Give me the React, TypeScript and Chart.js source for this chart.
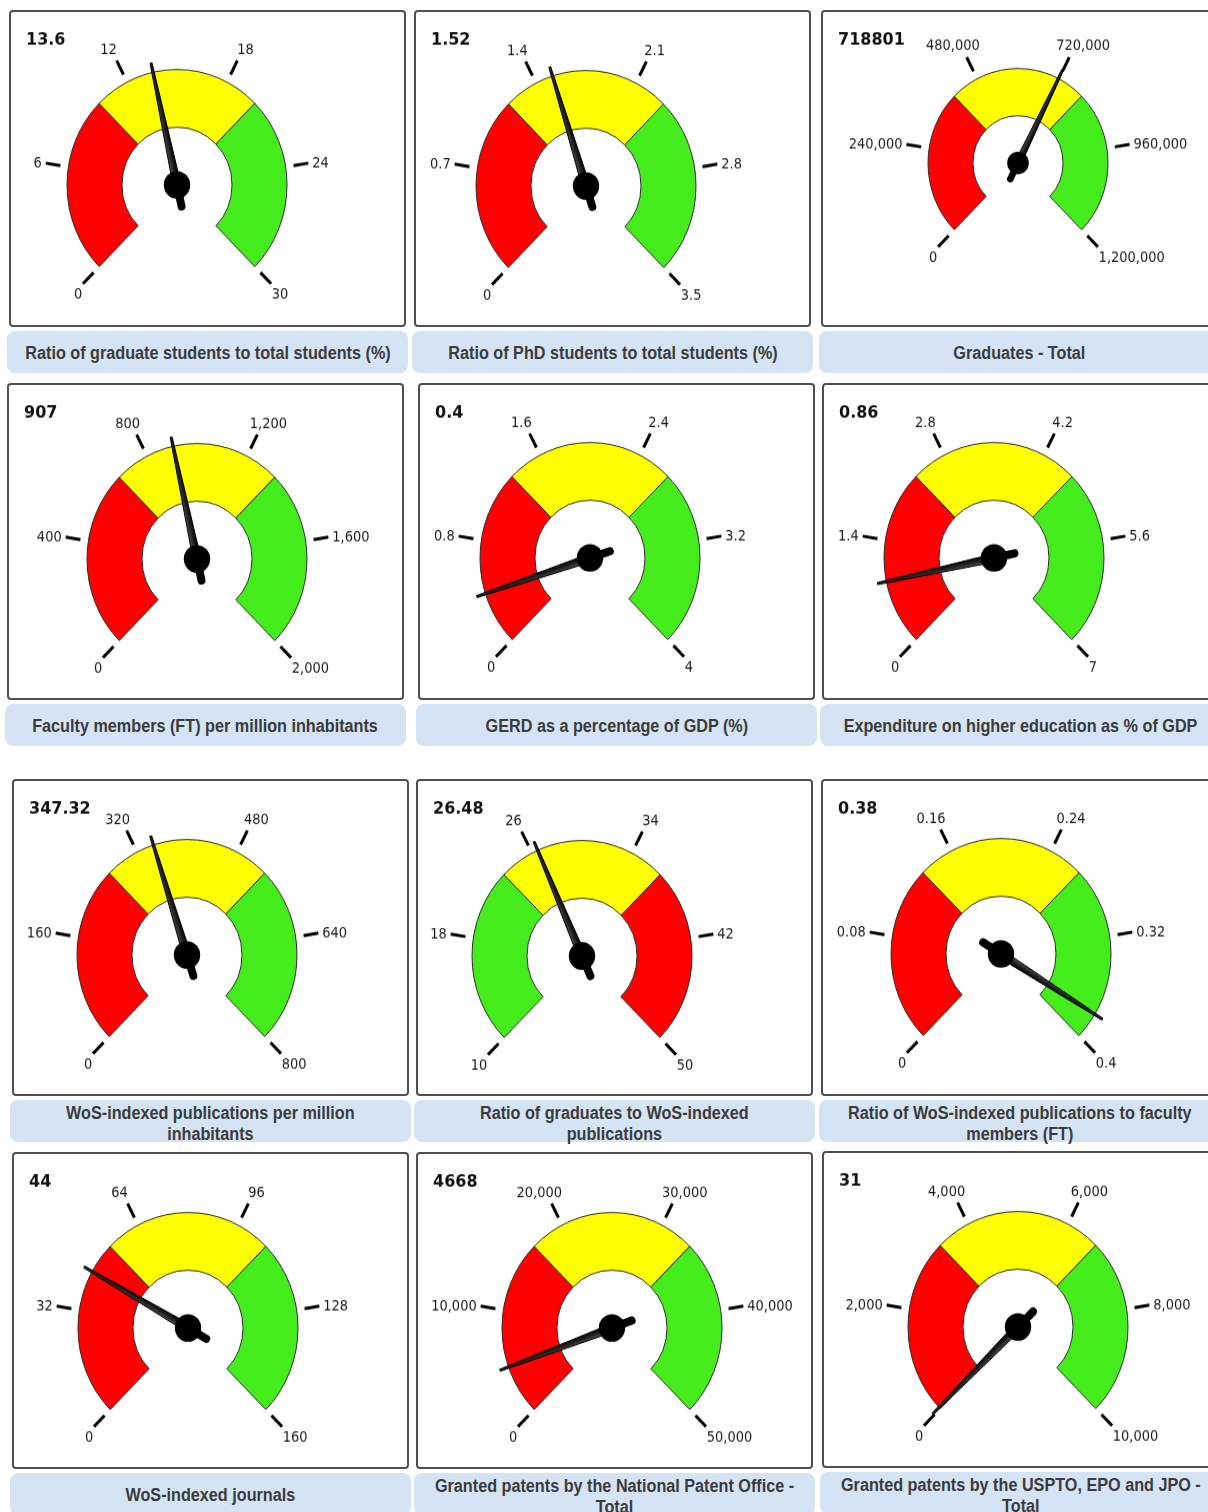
import React, { useEffect, useRef } from 'react'
import { Chart, registerables } from 'chart.js'

Chart.register(...registerables)

// ---- data ----
const titles = [
  'Ratio of graduate students to total students (%)',
  'Ratio of PhD students to total students (%)',
  'Graduates - Total',
  'Faculty members (FT) per million inhabitants',
  'GERD as a percentage of GDP (%)',
  'Expenditure on higher education as % of GDP',
  'WoS-indexed publications per million\ninhabitants',
  'Ratio of graduates to WoS-indexed\npublications',
  'Ratio of WoS-indexed publications to faculty\nmembers (FT)',
  'WoS-indexed journals',
  'Granted patents by the National Patent Office -\nTotal',
  'Granted patents by the USPTO, EPO and JPO -\nTotal'
]

const values = [13.6, 1.52, 718801, 907, 0.4, 0.86, 347.32, 26.48, 0.38, 44, 4668, 31]
const valueLabels = ['13.6', '1.52', '718801', '907', '0.4', '0.86', '347.32', '26.48', '0.38', '44', '4668', '31']

const tickLabels = [
  ['0', '6', '12', '18', '24', '30'],
  ['0', '0.7', '1.4', '2.1', '2.8', '3.5'],
  ['0', '240,000', '480,000', '720,000', '960,000', '1,200,000'],
  ['0', '400', '800', '1,200', '1,600', '2,000'],
  ['0', '0.8', '1.6', '2.4', '3.2', '4'],
  ['0', '1.4', '2.8', '4.2', '5.6', '7'],
  ['0', '160', '320', '480', '640', '800'],
  ['10', '18', '26', '34', '42', '50'],
  ['0', '0.08', '0.16', '0.24', '0.32', '0.4'],
  ['0', '32', '64', '96', '128', '160'],
  ['0', '10,000', '20,000', '30,000', '40,000', '50,000'],
  ['0', '2,000', '4,000', '6,000', '8,000', '10,000']
]

// band boundaries (low / mid / high)
const bandEdges = [
  [0, 10, 20, 30],
  [0, 1.17, 2.33, 3.5],
  [0, 400000, 800000, 1200000],
  [0, 667, 1333, 2000],
  [0, 1.33, 2.67, 4],
  [0, 2.33, 4.67, 7],
  [0, 267, 533, 800],
  [10, 23.3, 36.7, 50],
  [0, 0.133, 0.267, 0.4],
  [0, 53.3, 106.7, 160],
  [0, 16667, 33333, 50000],
  [0, 3333, 6667, 10000]
]

// true when the good (green) band is on the low side
const reversedBands = [false, false, false, false, false, false, false, true, false, false, false, false]

// ---- layout ----
const BOX_W = 397
const BOX_H = 317
const SY = 1.05 // the dials are drawn slightly taller than wide
const CANVAS_H = Math.round(BOX_H / SY)
const boxLeft = [9, 414, 821, 7, 418, 822, 12, 416, 821, 12, 416, 822]
const boxTop = [10, 10, 10, 383, 383, 383, 779, 779, 779, 1152, 1152, 1151]
const dialX = [168, 172, 197, 190, 172, 172, 175, 166, 180, 176, 196, 196]
const dialY = [175, 176, 153, 176, 175, 175, 176, 177, 175, 176, 176, 176]
const dialRadius = [110, 110, 90, 110, 110, 110, 110, 110, 110, 110, 110, 110]

const RED = '#ff0000'
const YELLOW = '#ffff00'
const GREEN = '#44ec1c'
const TICK_STRETCH = 1.12

const toNum = (s: string) => Number(s.replace(/,/g, ''))

function stretchedText(ctx: CanvasRenderingContext2D, text: string, x: number, y: number, align: CanvasTextAlign, baseline: CanvasTextBaseline) {
  ctx.save()
  ctx.translate(x, y)
  ctx.scale(1, TICK_STRETCH)
  ctx.textAlign = align
  ctx.textBaseline = baseline
  ctx.fillText(text, 0, 0)
  ctx.restore()
}

// ticks, labels, needle and readout drawn around the doughnut arc
const dialPlugin = {
  id: 'dial',
  afterDatasetsDraw(chart: any, _args: any, opts: any) {
    const arc = chart.getDatasetMeta(0).data[0]
    if (!arc) return
    const { x, y, outerRadius: R } = arc.getProps(['x', 'y', 'outerRadius'], true)
    const ctx: CanvasRenderingContext2D = chart.ctx
    const ticks: string[] = opts.ticks
    const min = toNum(ticks[0])
    const max = toNum(ticks[ticks.length - 1])
    const angleOf = (v: number) => ((-135 + ((v - min) / (max - min)) * 270) * Math.PI) / 180

    ctx.save()
    ctx.font = '13px "DejaVu Sans", Verdana, sans-serif'
    ctx.fillStyle = '#1a1a1a'
    ctx.strokeStyle = '#000'
    ctx.lineWidth = 3
    ticks.forEach((label) => {
      const a = angleOf(toNum(label))
      const dx = Math.sin(a)
      const dy = -Math.cos(a)
      ctx.beginPath()
      ctx.moveTo(x + dx * (R + 8), y + dy * (R + 8))
      ctx.lineTo(x + dx * (R + 23), y + dy * (R + 23))
      ctx.stroke()

      // label offsets are measured on screen, so undo the vertical stretch
      const w = ctx.measureText(label).width
      if (dy > 0.5) {
        stretchedText(ctx, label, x + dx * (R + 24), y + (dy * (R + 24) + 7) / SY, dx < 0 ? 'right' : 'left', 'top')
      } else if (Math.abs(dx) > 0.9) {
        stretchedText(ctx, label, x + dx * (R + 27), y + (dy * (R + 27)) / SY, dx < 0 ? 'right' : 'left', 'middle')
      } else {
        const lx = x + dx * (R + 41) + Math.sign(dx) * Math.max(0, (w - 20) / 6)
        stretchedText(ctx, label, lx, y + (dy * (R + 41)) / SY, 'center', 'middle')
      }
    })

    // needle
    const v = Math.min(max, Math.max(min, opts.value))
    const a = angleOf(v)
    const dx = Math.sin(a)
    const dy = -Math.cos(a)
    const px = -dy
    const py = dx
    const tip = R + 9
    const base = R * 0.036
    const grad = ctx.createLinearGradient(x + px * base, y + py * base, x - px * base, y - py * base)
    grad.addColorStop(0, '#000')
    grad.addColorStop(0.6, '#2a2a2a')
    grad.addColorStop(1, '#555')
    ctx.beginPath()
    ctx.moveTo(x + px * base, y + py * base)
    ctx.lineTo(x + dx * tip + px, y + dy * tip + py)
    ctx.lineTo(x + dx * tip - px, y + dy * tip - py)
    ctx.lineTo(x - px * base, y - py * base)
    ctx.closePath()
    ctx.fillStyle = grad
    ctx.fill()
    ctx.strokeStyle = '#000'
    ctx.lineWidth = 1
    ctx.stroke()

    ctx.lineCap = 'round'
    ctx.lineWidth = R * 0.072
    ctx.beginPath()
    ctx.moveTo(x, y)
    ctx.lineTo(x - dx * R * 0.19, y - dy * R * 0.19)
    ctx.stroke()

    ctx.fillStyle = '#000'
    ctx.beginPath()
    ctx.arc(x, y, R * 0.12, 0, Math.PI * 2)
    ctx.fill()

    // readout
    ctx.font = 'bold 16px "DejaVu Sans", Verdana, sans-serif'
    ctx.fillStyle = '#111'
    ctx.textAlign = 'left'
    ctx.textBaseline = 'alphabetic'
    ctx.fillText(opts.label, 17, 35 / SY)
    ctx.restore()
  }
}

function GaugePanel({ i }: { i: number }) {
  const canvasRef = useRef<HTMLCanvasElement>(null)

  useEffect(() => {
    if (!canvasRef.current) return
    const R = dialRadius[i]
    // a 270° doughnut is pushed down by (1 - cos45°)/2 of its radius
    const cx = dialX[i]
    const cy = dialY[i] / SY - ((1 - Math.SQRT1_2) / 2) * R
    const padding = { left: 0, right: 0, top: 0, bottom: 0 }
    if (2 * cx < BOX_W) padding.right = BOX_W - 2 * cx
    else padding.left = 2 * cx - BOX_W
    if (2 * cy < CANVAS_H) padding.bottom = CANVAS_H - 2 * cy
    else padding.top = 2 * cy - CANVAS_H

    const edges = bandEdges[i]
    const widths = edges.slice(1).map((e, k) => e - edges[k])
    const colors = reversedBands[i] ? [GREEN, YELLOW, RED] : [RED, YELLOW, GREEN]

    const chart = new Chart(canvasRef.current, {
      type: 'doughnut',
      data: {
        labels: ['low', 'mid', 'high'],
        datasets: [
          {
            data: widths,
            backgroundColor: colors,
            borderColor: '#2b2b2b',
            borderWidth: 1
          }
        ]
      },
      options: {
        responsive: false,
        animation: false,
        events: [],
        rotation: -135,
        circumference: 270,
        cutout: '50%',
        radius: R,
        layout: { padding },
        plugins: {
          legend: { display: false },
          tooltip: { enabled: false },
          dial: { ticks: tickLabels[i], value: values[i], label: valueLabels[i] }
        }
      } as any,
      plugins: [dialPlugin as any]
    })

    return () => {
      chart.destroy()
    }
  }, [i])

  const left = boxLeft[i]
  const top = boxTop[i]
  const twoLines = titles[i].includes('\n')

  return (
    <>
      <div
        style={{
          position: 'absolute',
          left,
          top,
          width: BOX_W,
          height: BOX_H,
          boxSizing: 'border-box',
          border: '2px solid #505050',
          borderRadius: 4,
          background: '#fff'
        }}
      />
      <canvas
        ref={canvasRef}
        width={BOX_W}
        height={CANVAS_H}
        style={{ position: 'absolute', left, top, width: BOX_W, height: BOX_H }}
      />
      <div
        style={{
          position: 'absolute',
          left: left - 2,
          top: top + BOX_H + 4,
          width: BOX_W + 4,
          height: 42,
          borderRadius: 8,
          background: '#d5e4f4',
          display: 'flex',
          alignItems: 'center',
          justifyContent: 'center',
          overflow: 'visible'
        }}
      >
        <span
          style={{
            display: 'inline-block',
            position: 'relative',
            top: twoLines ? 3 : 1,
            flexShrink: 0,
            whiteSpace: 'pre',
            textAlign: 'center',
            fontFamily: '"Liberation Sans", Arial, sans-serif',
            fontWeight: 'bold',
            fontSize: 18,
            lineHeight: '21px',
            color: '#3b3b3b',
            transform: 'scaleX(0.9)'
          }}
        >
          {titles[i]}
        </span>
      </div>
    </>
  )
}

export default function App() {
  return (
    <div
      style={{
        position: 'fixed',
        left: 0,
        top: 0,
        width: 1208,
        height: 1512,
        overflow: 'hidden',
        background: '#fff'
      }}
    >
      {titles.map((_, i) => (
        <GaugePanel key={i} i={i} />
      ))}
    </div>
  )
}
